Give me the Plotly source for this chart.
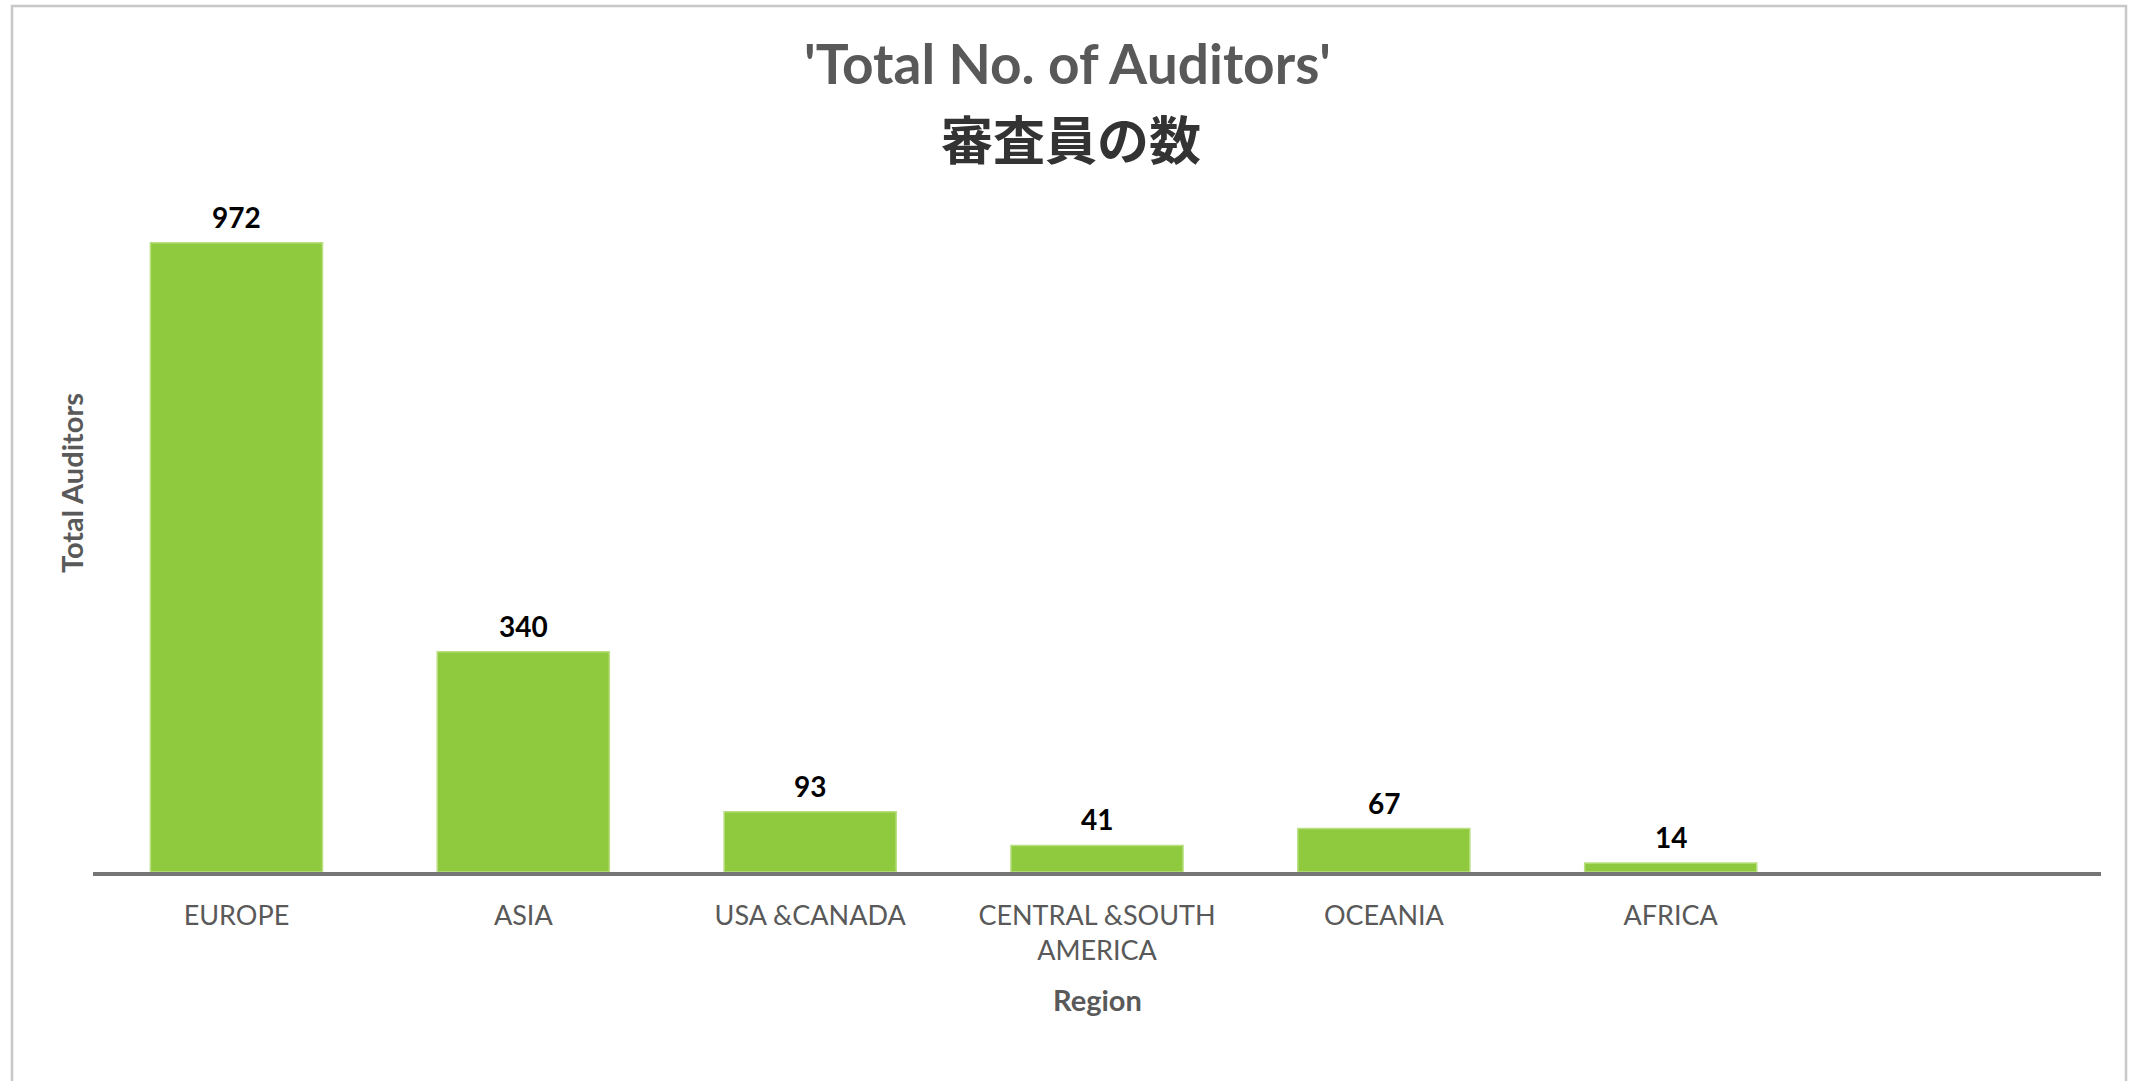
import plotly.graph_objects as go

categories = ["EUROPE", "ASIA", "USA &CANADA", "CENTRAL &SOUTH<br>AMERICA", "OCEANIA", "AFRICA", " "]
values = [972, 340, 93, 41, 67, 14, None]
labels = ["972", "340", "93", "41", "67", "14", ""]

W, H = 2131, 1081
L, R, T, B = 93, 30, 95, 209
pw, ph = W - L - R, H - T - B


def px(x):
    return (x - L) / pw


def py(y):
    return (H - B - y) / ph


FONT = "Lato, 'Noto Sans CJK JP', sans-serif"
GRAY = "#595959"

fig = go.Figure()
fig.add_trace(go.Bar(
    x=categories, y=values,
    marker=dict(color="#8FC93E", line=dict(color="#B9DF80", width=1.5)),
    width=0.6, hoverinfo="x+y",
))

annotations = []
for c, v, t in zip(categories, values, labels):
    if v is None:
        continue
    annotations.append(dict(
        x=c, y=v, xref="x", yref="y", text=f"<b>{t}</b>", showarrow=False,
        yanchor="bottom", yshift=7,
        font=dict(family=FONT, size=28, color="#000000"),
    ))

annotations += [
    dict(x=px(1067), y=py(63), xref="paper", yref="paper", text="<b>'Total No. of Auditors'</b>",
         showarrow=False, xanchor="center", yanchor="middle",
         font=dict(family=FONT, size=55, color=GRAY)),
    dict(x=px(1071), y=py(137), xref="paper", yref="paper", text="<b>審査員の数</b>",
         showarrow=False, xanchor="center", yanchor="middle",
         font=dict(family="'Noto Sans CJK JP', sans-serif", size=52, color="#333333")),
    dict(x=px(1097), y=py(999), xref="paper", yref="paper", text="<b>Region</b>",
         showarrow=False, xanchor="center", yanchor="middle",
         font=dict(family=FONT, size=29, color=GRAY)),
    dict(x=px(71), y=py(483), xref="paper", yref="paper", text="<b>Total Auditors</b>",
         showarrow=False, xanchor="center", yanchor="middle", textangle=-90,
         font=dict(family=FONT, size=29, color=GRAY)),
]

fig.update_layout(
    width=W, height=H,
    margin=dict(l=L, r=R, t=T, b=B, autoexpand=False),
    paper_bgcolor="white", plot_bgcolor="white",
    showlegend=False,
    font=dict(family=FONT, color=GRAY),
    annotations=annotations,
    xaxis=dict(
        type="category", showgrid=False, ticks="", automargin=False,
        showline=True, linecolor="#767676", linewidth=3.5,
        tickfont=dict(family=FONT, size=27, color=GRAY),
        ticklabelstandoff=17,
    ),
    yaxis=dict(
        range=[0, 1200], showgrid=False, showticklabels=False, zeroline=False,
        showline=False, automargin=False,
    ),
)

# outer chart-area frame
fig.add_shape(
    type="rect", xref="paper", yref="paper",
    x0=px(12), x1=px(2126), y0=py(1090), y1=py(6),
    line=dict(color="#C8C8C8", width=2.5), fillcolor="rgba(0,0,0,0)", layer="below",
)

fig.write_html("out.html", config={"displayModeBar": False},
               post_script="document.body.style.margin='0';")
